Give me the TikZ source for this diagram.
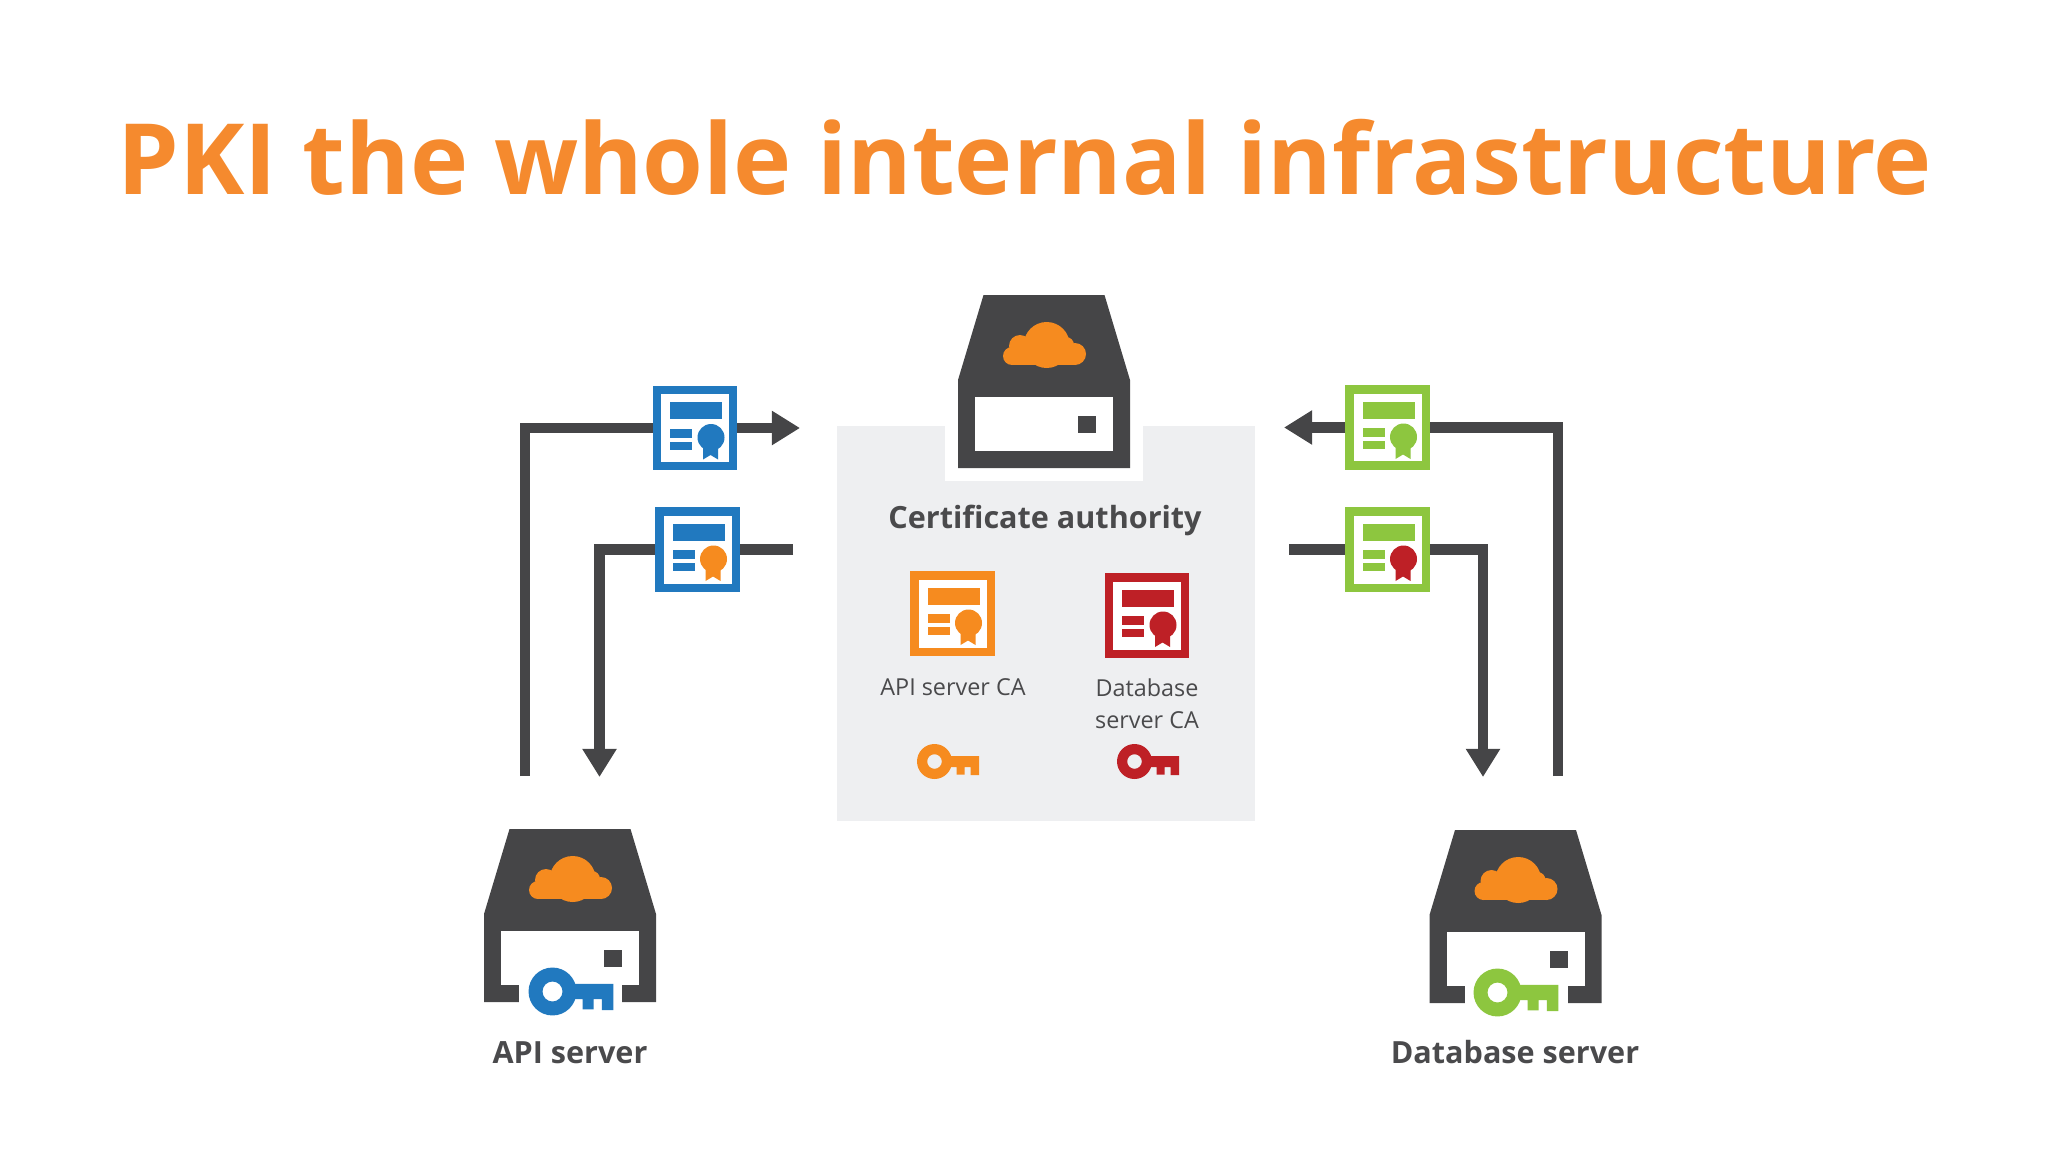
\documentclass[tikz,border=0pt]{standalone}
\usepackage{fontspec}
\setmainfont{Open Sans}
\usetikzlibrary{arrows.meta,positioning}
\definecolor{darkgrey}{HTML}{454547}
\definecolor{labelgrey}{HTML}{4A4A4C}
\definecolor{panelgrey}{HTML}{EEEFF1}
\definecolor{pkiorange}{HTML}{F68B1F}
\definecolor{titleorange}{HTML}{F58A2E}
\definecolor{pkiblue}{HTML}{2179BF}
\definecolor{pkigreen}{HTML}{8DC63F}
\definecolor{pkired}{HTML}{BE2026}

\begin{document}
\begin{tikzpicture}[
    x=0.02cm, y=-0.02cm,
    titletext/.style={font=\fontsize{56}{70}\selectfont\bfseries, text=titleorange, inner sep=0},
    boldlabel/.style={font=\fontsize{17.4}{20}\selectfont\bfseries, text=labelgrey, inner sep=0},
    smalllabel/.style={font=\fontsize{13.3}{18.2}\selectfont, text=labelgrey, align=center, inner sep=0},
    capanel/.style={rectangle, fill=panelgrey, minimum width=418*0.02cm, minimum height=395*0.02cm, inner sep=0},
    certbox/.style={rectangle, draw=#1, fill=white, line width=4.8pt, minimum size=43.5pt, inner sep=0},
    link/.style={draw=darkgrey, line width=6pt},
    arrowlink/.style={link, -{Triangle[length=16pt, width=18.5pt]}},
    pics/cloudicon/.style={code={
        \fill[pkiorange] (2.7,50) circle[radius=23];
        \fill[pkiorange] (-24,51) circle[radius=11];
        \fill[pkiorange] (-32,61) circle[radius=9];
        \fill[pkiorange] (31,59) circle[radius=11];
        \fill[pkiorange] (22,50) circle[radius=8];
        \fill[pkiorange] (-32,52) rectangle (31,70);
    }},
    pics/serverbox/.style={code={
        \fill[darkgrey] (-60.5,0) -- (60.5,0) -- (86,85) -- (86,173) -- (-86,173) -- (-86,85) -- cycle;
        \fill[white] (-69,102) rectangle (69,156);
        \fill[darkgrey] (34,121) rectangle (52,138);
        \pic {cloudicon};
    }},
    pics/certmark/.style 2 args={code={
        \fill[#1] (-25,-26) rectangle (27,-9);
        \fill[#1] (-25,0.5) rectangle (-3,9.5);
        \fill[#1] (-25,13.5) rectangle (-3,21.5);
        \fill[#2] (16,9.5) circle[radius=13.5];
        \fill[#2] (8,15) -- (8,31.5) -- (15.5,27) -- (23,31.5) -- (23,15) -- cycle;
    }},
    pics/keyicon/.style={code={
        \fill[#1, even odd rule] (0,0) circle[radius=17.5] (0,0) circle[radius=7.3];
        \fill[#1] (14,-5.5) -- (44.5,-5.5) -- (44.5,13.5) -- (36,13.5) -- (36,5.5)
            -- (30,5.5) -- (30,13) -- (22,13) -- (22,5.5) -- (14,5.5) -- cycle;
    }}
]
\useasboundingbox (0,0) rectangle (2048,1152);

% Title
\node[titletext] (title) at (1025,157.5) {PKI the whole internal infrastructure};

% Certificate authority
\node[capanel] (capanel) at (1046,623.5) {};
\fill[white] (945,420) rectangle (1143,481);
\pic at (1044,295) {serverbox};
\node[boldlabel] (calabel) at (1045,520) {Certificate authority};

\node[certbox=pkiorange] (apica) at (952.5,613.5) {};
\pic at (apica) {certmark={pkiorange}{pkiorange}};
\node[certbox=pkired] (dbca) at (1147,615.5) {};
\pic at (dbca) {certmark={pkired}{pkired}};
\node[smalllabel, anchor=north] (apicalabel) at (953,678.5) {API server CA};
\node[smalllabel, anchor=north] (dbcalabel) at (1147,678.5) {Database\\server CA};
\pic at (934.5,761.5) {keyicon=pkiorange};
\pic at (1134.5,761.5) {keyicon=pkired};

% Servers
\pic at (570,829) {serverbox};
\fill[white] (519,975) rectangle (622,1010);
\pic[scale=1.37] at (552.5,991.5) {keyicon=pkiblue};
\node[boldlabel] (apilabel) at (570,1053) {API server};

\pic at (1515.5,830) {serverbox};
\fill[white] (1464.5,976) rectangle (1567.5,1011);
\pic[scale=1.37] at (1497.5,992.5) {keyicon=pkigreen};
\node[boldlabel] (dblabel) at (1515,1052) {Database server};

% Certificates
\node[certbox=pkiblue] (apicert) at (695,428) {};
\pic at (apicert) {certmark={pkiblue}{pkiblue}};
\node[certbox=pkiblue] (apisigned) at (697.5,549.5) {};
\pic at (apisigned) {certmark={pkiblue}{pkiorange}};
\node[certbox=pkigreen] (dbcert) at (1387.5,427.5) {};
\pic at (dbcert) {certmark={pkigreen}{pkigreen}};
\node[certbox=pkigreen] (dbsigned) at (1387.5,549.5) {};
\pic at (dbsigned) {certmark={pkigreen}{pkired}};

% Connections
\coordinate (apiout) at (525,776);
\coordinate (apiin) at (599.5,777);
\coordinate (dbout) at (1558,776);
\coordinate (dbin) at (1483,777);
\coordinate (caleft) at (800,428);
\coordinate (caleftb) at (793,549.5);
\coordinate (caright) at (1284,427.5);
\coordinate (carightb) at (1289,549.5);

\draw[link] (apiout) |- (apicert.west);
\draw[arrowlink] (apicert.east) -- (caleft);
\draw[link] (caleftb) -- (apisigned.east);
\draw[arrowlink] (apisigned.west) -| (apiin);
\draw[link] (dbout) |- (dbcert.east);
\draw[arrowlink] (dbcert.west) -- (caright);
\draw[link] (carightb) -- (dbsigned.west);
\draw[arrowlink] (dbsigned.east) -| (dbin);

\end{tikzpicture}
\end{document}
